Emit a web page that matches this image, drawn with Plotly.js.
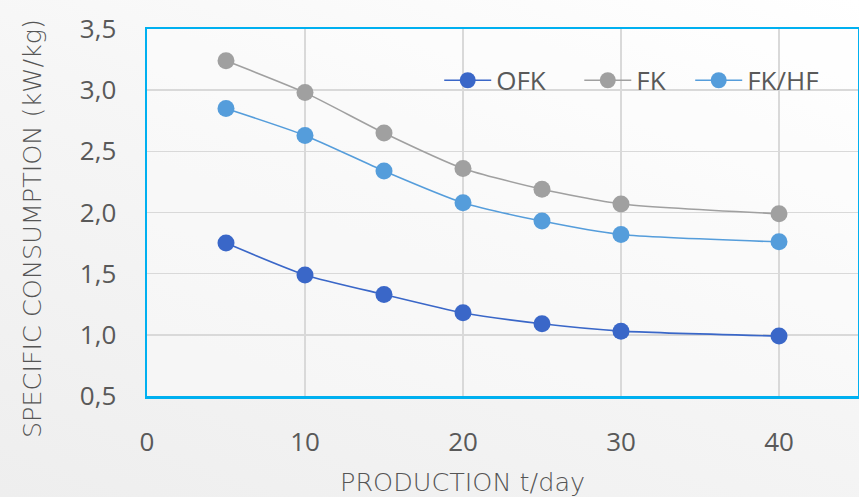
<!DOCTYPE html>
<html>
<head>
<meta charset="utf-8">
<script src="https://cdn.plot.ly/plotly-3.0.1.min.js"></script>
<style>
html,body{margin:0;padding:0;}
body{width:859px;height:497px;background:linear-gradient(200deg,#ffffff 0%,#f6f6f6 45%,#eeeeee 100%);}
#chart{width:859px;height:497px;}
</style>
</head>
<body>
<div id="chart"></div>
<script>
const production = [5, 10, 15, 20, 25, 30, 40];
const ofk  = [1.75, 1.49, 1.33, 1.18, 1.09, 1.03, 0.99];
const fk   = [3.24, 2.98, 2.65, 2.36, 2.19, 2.07, 1.99];
const fkhf = [2.85, 2.63, 2.34, 2.08, 1.93, 1.82, 1.76];
const seriesNames = ['OFK', 'FK', 'FK/HF'];
const colors = ['#3a67c8', '#a0a0a0', '#559ddb'];
const xTicks = [0, 10, 20, 30, 40];
const yTicks = [0.5, 1.0, 1.5, 2.0, 2.5, 3.0, 3.5];
const xTitle = 'PRODUCTION t/day';
const yTitle = 'SPECIFIC CONSUMPTION (kW/kg)';

const legendIds = ['legend', 'legend2', 'legend3'];
const legendX = [0.411, 0.608, 0.764];

const values = [ofk, fk, fkhf];
const traces = values.map((v, i) => ({
  x: production, y: v, name: seriesNames[i], type: 'scatter', mode: 'lines+markers',
  legend: legendIds[i],
  line: {color: colors[i], width: 1.6, shape: 'spline', smoothing: 0.6},
  marker: {color: colors[i], size: 17, line: {width: 0}}
}));

const titleFont = {family: 'DejaVu Sans, sans-serif', size: 25.5, color: '#555555', weight: 200};

const layout = {
  width: 859, height: 497,
  margin: {l: 147, r: 1, t: 29, b: 101},
  paper_bgcolor: 'rgba(0,0,0,0)',
  plot_bgcolor: 'rgba(255,255,255,0.35)',
  separators: ',.',
  font: {family: 'Open Sans, sans-serif', color: '#595959', size: 26},
  showlegend: true,
  xaxis: {
    range: [0, 45], tickvals: xTicks, ticktext: xTicks.map(String),
    showgrid: true, gridcolor: '#d9d9d9', gridwidth: 1.5, zeroline: false,
    showline: true, mirror: true, linecolor: '#00b0f0', linewidth: 2.5,
    ticks: '', ticklabelstandoff: 21,
    tickfont: {size: 26, color: '#595959'}
  },
  yaxis: {
    range: [0.5, 3.5], tickvals: yTicks, tickformat: '.1f',
    showgrid: true, gridcolor: '#d9d9d9', gridwidth: 1.5, zeroline: false,
    showline: true, mirror: true, linecolor: '#00b0f0', linewidth: 2.5,
    ticks: '', ticklabelstandoff: 23,
    tickfont: {size: 26, color: '#595959'}
  },
  annotations: [
    {text: xTitle, xref: 'paper', yref: 'paper', x: 0.444, y: -0.233, xanchor: 'center', yanchor: 'middle',
     showarrow: false, font: titleFont},
    {text: yTitle, xref: 'paper', yref: 'paper', x: -0.162, y: 0.457, xanchor: 'center', yanchor: 'middle',
     textangle: -90, showarrow: false, font: titleFont}
  ]
};
legendIds.forEach((id, i) => {
  layout[id] = {orientation: 'h', x: legendX[i], y: 0.86, xanchor: 'left', yanchor: 'middle',
    bgcolor: 'rgba(0,0,0,0)', font: {size: 26, color: '#595959'}, itemwidth: 47};
});

Plotly.newPlot('chart', traces, layout, {displayModeBar: false, staticPlot: true});
</script>
</body>
</html>
